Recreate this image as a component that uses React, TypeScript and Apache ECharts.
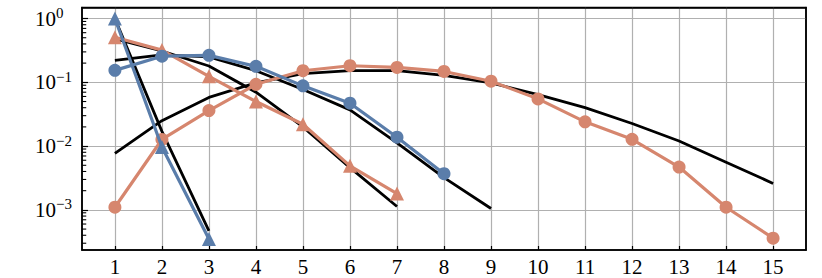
import React, { useEffect, useRef } from "react";
import * as echarts from "echarts";

// ---- data ----
const xTickValues = [1, 2, 3, 4, 5, 6, 7, 8, 9, 10, 11, 12, 13, 14, 15];
const yDecadeExponents = [-3, -2, -1, 0];

const orangeCircleX = [1, 2, 3, 4, 5, 6, 7, 8, 9, 10, 11, 12, 13, 14, 15];
const orangeCircleY = [0.0011, 0.0127, 0.036, 0.093, 0.152, 0.182, 0.171, 0.148, 0.104, 0.055, 0.024, 0.0128, 0.0047, 0.0011, 0.00036];
const orangeCircleTheoryY = [0.0077, 0.025, 0.058, 0.098, 0.137, 0.153, 0.152, 0.128, 0.098, 0.064, 0.04, 0.0226, 0.012, 0.0056, 0.0026];

const orangeTriangleX = [1, 2, 3, 4, 5, 6, 7];
const orangeTriangleY = [0.51, 0.32, 0.124, 0.05, 0.022, 0.0049, 0.0018];
const orangeTriangleTheoryY = [0.48, 0.31, 0.18, 0.07, 0.02, 0.0046, 0.00113];

const blueCircleX = [1, 2, 3, 4, 5, 6, 7, 8];
const blueCircleY = [0.154, 0.257, 0.265, 0.178, 0.088, 0.047, 0.0138, 0.0037];
const blueCircleTheoryX = [1, 2, 3, 4, 5, 6, 7, 8, 9];
const blueCircleTheoryY = [0.22, 0.27, 0.25, 0.152, 0.077, 0.037, 0.0112, 0.0032, 0.00105];

const blueTriangleX = [1, 2, 3];
const blueTriangleY = [1.0, 0.0097, 0.00035];
const blueTriangleTheoryY = [1.0, 0.017, 0.00047];

// ---- styling ----
const BLUE = "#5a7daa";
const ORANGE = "#d6866e";
const FONT = "Liberation Serif";

const X_MIN = 0.3;
const X_MAX = 15.7;
const Y_MIN = -3.629; // log10 space
const Y_MAX = 0.173;
const MINOR_TICK_DX = 0.09; // minor tick length in x-units (~4px)

const toPts = (xs: number[], ys: number[]) => xs.map((x, i) => [x, Math.log10(ys[i])]);

const minorTickValues: number[] = [];
for (let d = -4; d <= 0; d++) {
  for (let k = 2; k <= 9; k++) {
    const v = Math.log10(k) + d;
    if (v > Y_MIN && v < Y_MAX) minorTickValues.push(v);
  }
}

export default function App() {
  const ref = useRef<HTMLDivElement>(null);
  useEffect(() => {
    if (!ref.current) return;
    const chart = echarts.init(ref.current, null, { renderer: "svg" });
    const theory = (name: string, data: number[][]) => ({
      name,
      type: "line",
      data,
      symbol: "none",
      lineStyle: { color: "#000", width: 2.8 },
      z: 2,
      silent: true,
    });
    const model = (name: string, data: number[][], color: string, symbol: string, size: number, z: number) => ({
      name,
      type: "line",
      data,
      symbol,
      symbolSize: size,
      showSymbol: true,
      lineStyle: { color, width: 3.2 },
      itemStyle: { color, borderWidth: 0 },
      z,
      silent: true,
    });
    const minorTickSeries = minorTickValues.map((v, i) => ({
      name: "minor tick " + i,
      type: "line",
      data: [
        [X_MIN, v],
        [X_MIN + MINOR_TICK_DX, v],
      ],
      symbol: "none",
      lineStyle: { color: "#000", width: 1.1 },
      z: 10,
      silent: true,
      clip: false,
    }));
    chart.setOption({
      animation: false,
      backgroundColor: "#fff",
      textStyle: { fontFamily: FONT },
      grid: {
        left: 82,
        right: 16,
        top: 7.5,
        bottom: 28,
        containLabel: false,
        outerBoundsMode: "none",
        show: true,
        borderColor: "#000",
        borderWidth: 1.5,
        backgroundColor: "transparent",
      },
      xAxis: [
        {
          type: "value",
          min: X_MIN,
          max: X_MAX,
          position: "bottom",
          axisLine: { show: true, onZero: false, lineStyle: { color: "#000", width: 1.5 } },
          axisTick: {
            show: true,
            inside: true,
            length: 4,
            customValues: xTickValues,
            lineStyle: { color: "#000", width: 1.2 },
          },
          axisLabel: {
            show: true,
            customValues: xTickValues,
            margin: 6,
            color: "#000",
            fontFamily: FONT,
            fontSize: 21,
          },
          splitLine: { show: true, lineStyle: { color: "#b0b0b0", width: 1.2 } },
        },
        {
          type: "value",
          min: X_MIN,
          max: X_MAX,
          position: "top",
          axisLine: { show: true, onZero: false, lineStyle: { color: "#000", width: 1.5 } },
          axisTick: { show: false },
          axisLabel: { show: false },
          splitLine: { show: false },
        },
      ],
      yAxis: [
        {
          type: "value",
          min: Y_MIN,
          max: Y_MAX,
          position: "left",
          axisLine: { show: true, onZero: false, lineStyle: { color: "#000", width: 1.5 } },
          axisTick: {
            show: true,
            inside: true,
            length: 6,
            customValues: yDecadeExponents,
            lineStyle: { color: "#000", width: 1.2 },
          },
          axisLabel: {
            show: true,
            customValues: yDecadeExponents,
            align: "left",
            margin: 47,
            color: "#000",
            fontFamily: FONT,
            fontSize: 21,
            formatter: (v: number) => `{b|10}{s|${v < 0 ? "\u2212" : ""}${Math.abs(Math.round(v))}}`,
            rich: {
              b: { fontFamily: FONT, fontSize: 21, lineHeight: 26, color: "#000" },
              s: { fontFamily: FONT, fontSize: 15, lineHeight: 15, verticalAlign: "top", color: "#000" },
            },
          },
          splitLine: { show: true, lineStyle: { color: "#b0b0b0", width: 1.2 } },
        },
        {
          type: "value",
          min: Y_MIN,
          max: Y_MAX,
          position: "right",
          axisLine: { show: true, onZero: false, lineStyle: { color: "#000", width: 1.5 } },
          axisTick: { show: false },
          axisLabel: { show: false },
          splitLine: { show: false },
        },
      ],
      series: [
        ...minorTickSeries,
        theory("theory orange circles", toPts(orangeCircleX, orangeCircleTheoryY)),
        theory("theory orange triangles", toPts(orangeTriangleX, orangeTriangleTheoryY)),
        theory("theory blue circles", toPts(blueCircleTheoryX, blueCircleTheoryY)),
        theory("theory blue triangles", toPts(blueTriangleX, blueTriangleTheoryY)),
        model("orange circles", toPts(orangeCircleX, orangeCircleY), ORANGE, "circle", 13, 3),
        model("orange triangles", toPts(orangeTriangleX, orangeTriangleY), ORANGE, "triangle", 14, 3),
        model("blue circles", toPts(blueCircleX, blueCircleY), BLUE, "circle", 13, 4),
        model("blue triangles", toPts(blueTriangleX, blueTriangleY), BLUE, "triangle", 14, 4),
      ],
    });
    return () => chart.dispose();
  }, []);
  return (
    <div
      ref={ref}
      style={{ position: "fixed", left: 0, top: 0, width: 822, height: 278, background: "#fff" }}
    />
  );
}
